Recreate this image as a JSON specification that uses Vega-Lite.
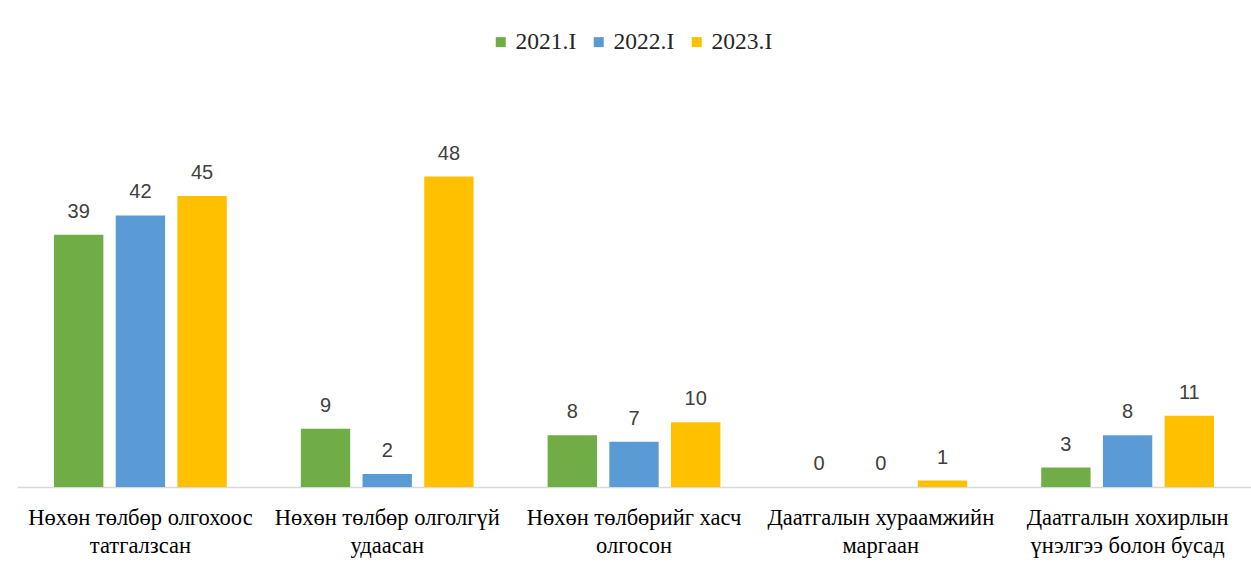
{
  "$schema": "https://vega.github.io/schema/vega-lite/v6.json",
  "autosize": {"type": "none"},
  "width": 1234,
  "height": 388,
  "padding": {"left": 17, "top": 99, "right": 0, "bottom": 97},
  "background": "white",
  "config": {"view": {"stroke": null}},
  "data": {
    "values": [
      {"category": "Нөхөн төлбөр олгохоос татгалзсан", "year": "2021.I", "value": 39},
      {"category": "Нөхөн төлбөр олгохоос татгалзсан", "year": "2022.I", "value": 42},
      {"category": "Нөхөн төлбөр олгохоос татгалзсан", "year": "2023.I", "value": 45},
      {"category": "Нөхөн төлбөр олголгүй удаасан", "year": "2021.I", "value": 9},
      {"category": "Нөхөн төлбөр олголгүй удаасан", "year": "2022.I", "value": 2},
      {"category": "Нөхөн төлбөр олголгүй удаасан", "year": "2023.I", "value": 48},
      {"category": "Нөхөн төлбөрийг хасч олгосон", "year": "2021.I", "value": 8},
      {"category": "Нөхөн төлбөрийг хасч олгосон", "year": "2022.I", "value": 7},
      {"category": "Нөхөн төлбөрийг хасч олгосон", "year": "2023.I", "value": 10},
      {"category": "Даатгалын хураамжийн маргаан", "year": "2021.I", "value": 0},
      {"category": "Даатгалын хураамжийн маргаан", "year": "2022.I", "value": 0},
      {"category": "Даатгалын хураамжийн маргаан", "year": "2023.I", "value": 1},
      {"category": "Даатгалын хохирлын үнэлгээ болон бусад", "year": "2021.I", "value": 3},
      {"category": "Даатгалын хохирлын үнэлгээ болон бусад", "year": "2022.I", "value": 8},
      {"category": "Даатгалын хохирлын үнэлгээ болон бусад", "year": "2023.I", "value": 11}
    ]
  },
  "encoding": {
    "x": {
      "field": "category",
      "type": "nominal",
      "sort": null,
      "scale": {"paddingInner": 0.3, "paddingOuter": 0.15},
      "axis": {
        "title": null,
        "ticks": false,
        "domainColor": "#D9D9D9",
        "domainWidth": 1.5,
        "labelAngle": 0,
        "labelFont": "Liberation Serif",
        "labelFontSize": 22.5,
        "labelColor": "#000000",
        "labelPadding": 19,
        "labelLineHeight": 28,
        "labelLimit": 0,
        "labelExpr": "datum.value == 'Даатгалын хохирлын үнэлгээ болон бусад' ? ['Даатгалын хохирлын', 'үнэлгээ болон бусад'] : [substring(datum.value, 0, lastindexof(datum.value, ' ')), substring(datum.value, lastindexof(datum.value, ' ') + 1)]"
      }
    },
    "xOffset": {
      "field": "year",
      "type": "nominal",
      "scale": {"paddingInner": 0.2, "paddingOuter": 0}
    },
    "y": {
      "field": "value",
      "type": "quantitative",
      "scale": {"domain": [0, 60]},
      "axis": null
    }
  },
  "layer": [
    {
      "mark": {"type": "bar"},
      "encoding": {
        "color": {
          "field": "year",
          "type": "nominal",
          "scale": {"domain": ["2021.I", "2022.I", "2023.I"], "range": ["#70AD47", "#5B9BD5", "#FFC000"]},
          "legend": {
            "title": null,
            "orient": "none",
            "direction": "horizontal",
            "legendX": 472,
            "legendY": -69,
            "symbolType": "square",
            "symbolSize": 100,
            "symbolStrokeWidth": 0,
            "labelFont": "Liberation Serif",
            "labelFontSize": 23.5,
            "labelColor": "#262626",
            "labelOffset": 3,
            "columnPadding": 10
          }
        }
      }
    },
    {
      "mark": {"type": "text", "baseline": "alphabetic", "dy": -17, "font": "Liberation Sans", "fontSize": 20, "color": "#404040"},
      "encoding": {
        "text": {"field": "value", "type": "quantitative"}
      }
    }
  ]
}
